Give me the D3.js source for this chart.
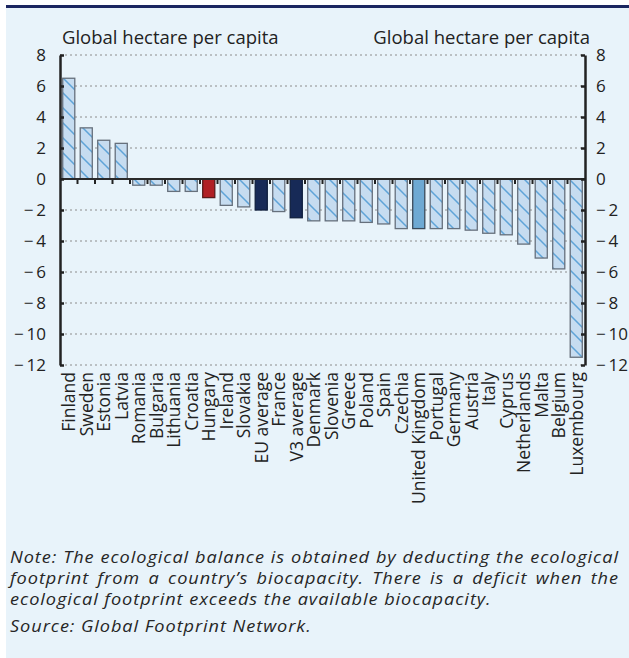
<!DOCTYPE html>
<html>
<head>
<meta charset="utf-8">
<script src="https://cdn.jsdelivr.net/npm/d3@7"></script>
<style>
  html, body { margin: 0; padding: 0; background: #ffffff; }
  body { width: 629px; height: 658px; position: relative; overflow: hidden; font-family: "Open Sans", sans-serif; }
  #note {
    position: absolute; left: 10px; top: 546px; width: 553.6px;
    transform: scaleX(1.1); transform-origin: 0 0;
    font-family: "Open Sans", sans-serif; font-style: italic; font-size: 16.5px;
    letter-spacing: 0.85px; line-height: 21px; color: #262626;
  }
  #note .j { display: block; text-align: justify; text-align-last: justify; white-space: nowrap; }
  #note .l { display: block; white-space: nowrap; }
  #note .s { display: block; margin-top: 6px; white-space: nowrap; }
</style>
</head>
<body>
<svg id="chart" width="629" height="658"></svg>
<div id="note">
  <span class="j">Note: The ecological balance is obtained by deducting the ecological</span>
  <span class="j">footprint from a country’s biocapacity. There is a deficit when the</span>
  <span class="l">ecological footprint exceeds the available biocapacity.</span>
  <span class="s">Source: Global Footprint Network.</span>
</div>
<script>
const categories = ["Finland","Sweden","Estonia","Latvia","Romania","Bulgaria","Lithuania","Croatia","Hungary","Ireland","Slovakia","EU average","France","V3 average","Denmark","Slovenia","Greece","Poland","Spain","Czechia","United Kingdom","Portugal","Germany","Austria","Italy","Cyprus","Netherlands","Malta","Belgium","Luxembourg"];
const values = [6.5, 3.3, 2.5, 2.3, -0.4, -0.4, -0.8, -0.8, -1.2, -1.7, -1.8, -2.0, -2.1, -2.5, -2.7, -2.7, -2.7, -2.8, -2.9, -3.2, -3.2, -3.2, -3.2, -3.3, -3.5, -3.6, -4.2, -5.1, -5.8, -11.5];
const barKinds = ["c","c","c","c","c","c","c","c","hu","c","c","avg","c","avg","c","c","c","c","c","c","uk","c","c","c","c","c","c","c","c","c"];
const yTicks = [-12, -10, -8, -6, -4, -2, 0, 2, 4, 6, 8];
const axisTitle = "Global hectare per capita";

const svg = d3.select("#chart");
svg.append("rect").attr("x", 6).attr("y", 8).attr("width", 623).attr("height", 650).attr("fill", "#e8f3fa");
svg.append("rect").attr("x", 6).attr("y", 5).attr("width", 623).attr("height", 3).attr("fill", "#1b2660");

const pLeft = 60, pRight = 585, pTop = 55, pBottom = 365;
const x = d3.scaleBand().domain(categories).range([pLeft, pRight]).paddingInner(0.31).paddingOuter(0.155);
const y = d3.scaleLinear().domain([-12, 8]).range([pBottom, pTop]);

const defs = svg.append("defs");
const pat = defs.append("pattern").attr("id", "hatch").attr("patternUnits", "userSpaceOnUse")
  .attr("width", 15).attr("height", 15);
pat.append("rect").attr("width", 15).attr("height", 15).attr("fill", "#c6dcf0");
pat.append("path").attr("d", "M-4,-4 L19,19 M-4,11 L4,19 M11,-4 L19,4")
  .attr("stroke", "#5fa4d8").attr("stroke-width", 1.5);

// gridlines
svg.append("g").selectAll("line").data(yTicks.filter(d => d !== 0)).join("line")
  .attr("x1", pLeft).attr("x2", pRight).attr("y1", d => y(d)).attr("y2", d => y(d))
  .attr("stroke", "#8c8c8c").attr("stroke-width", 1).attr("stroke-dasharray", "2,3");

// bars
const fills = { c: "url(#hatch)", hu: "#b01f24", avg: "#172a57", uk: "#6ea9d3" };
const strokes = { c: "#66707c", hu: "#5a1a1a", avg: "#10203f", uk: "#3a4a5a" };
svg.append("g").selectAll("rect").data(categories).join("rect")
  .attr("x", d => x(d))
  .attr("width", x.bandwidth())
  .attr("y", (d, i) => y(Math.max(0, values[i])))
  .attr("height", (d, i) => Math.abs(y(values[i]) - y(0)))
  .attr("fill", (d, i) => fills[barKinds[i]])
  .attr("stroke", (d, i) => strokes[barKinds[i]])
  .attr("stroke-width", 1.3);

// x axis at zero with ticks between categories
const xAxisG = svg.append("g").attr("transform", `translate(0,${y(0)})`);
const bounds = categories.slice(1).map(c => x(c) - x.step() * x.paddingInner() / 2);
xAxisG.selectAll("line.t").data(bounds).join("line").attr("class", "t")
  .attr("x1", d => d).attr("x2", d => d).attr("y1", 0).attr("y2", 5)
  .attr("stroke", "#222").attr("stroke-width", 2);
xAxisG.append("line").attr("x1", pLeft).attr("x2", pRight).attr("y1", 0).attr("y2", 0)
  .attr("stroke", "#2a2a2a").attr("stroke-width", 2);

// category labels
svg.append("g").selectAll("text").data(categories).join("text")
  .attr("transform", d => `translate(${x(d) + x.bandwidth() / 2},372) rotate(-90)`)
  .attr("text-anchor", "end").attr("dy", "0.36em")
  .attr("font-family", "Open Sans").attr("font-size", 17.5).attr("fill", "#222")
  .text(d => d);

// y axes
const fmt = d => d < 0 ? "\u2212\u2009" + Math.abs(d) : String(d);
const yl = d3.axisLeft(y).tickValues(yTicks).tickSizeInner(-4).tickSizeOuter(0).tickPadding(14).tickFormat(fmt);
const yr = d3.axisRight(y).tickValues(yTicks).tickSizeInner(-4).tickSizeOuter(0).tickPadding(11).tickFormat(fmt);
const gl = svg.append("g").attr("transform", `translate(${pLeft},0)`).call(yl);
const gr = svg.append("g").attr("transform", `translate(${pRight},0)`).call(yr);
[gl, gr].forEach(g => {
  g.select(".domain").attr("stroke", "#222").attr("stroke-width", 2.5);
  g.selectAll(".tick line").attr("stroke", "#222").attr("stroke-width", 2.5);
  g.selectAll(".tick text").attr("font-family", "Open Sans").attr("font-size", 17).attr("fill", "#222");
});

// axis titles
svg.append("text").attr("x", 62).attr("y", 44).attr("font-family", "Open Sans").attr("font-size", 18.5)
  .attr("fill", "#222").text(axisTitle);
svg.append("text").attr("x", 590).attr("y", 44).attr("text-anchor", "end").attr("font-family", "Open Sans")
  .attr("font-size", 18.5).attr("fill", "#222").text(axisTitle);
</script>
</body>
</html>
